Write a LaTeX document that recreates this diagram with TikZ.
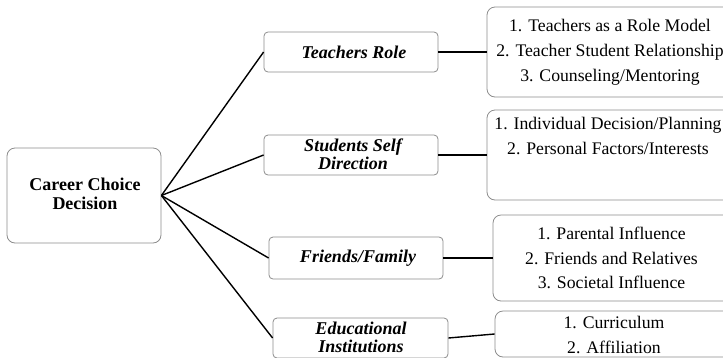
\documentclass[tikz,border=0pt]{standalone}
\usepackage{fontspec}
\setmainfont{Liberation Serif}
\begin{document}
\begin{tikzpicture}[x=1pt,y=-1pt,
  box/.style={draw=black!45, line width=0.8pt, rounded corners=4pt, inner sep=0pt},
  bigbox/.style={box, rounded corners=8pt},
  cattext/.style={font=\fontsize{18}{18.5}\selectfont\bfseries\itshape, align=center, inner sep=0pt},
  itemtext/.style={font=\fontsize{17.7}{24.8}\selectfont, align=center, inner sep=0pt},
  link/.style={draw=black, line width=1.4pt}]
\path[use as bounding box, clip] (0,0) rectangle (723,357);
% central
\node[bigbox, minimum width=154, minimum height=95] (c) at (84,195.5) {};
\node[font=\fontsize{18}{18.5}\selectfont\bfseries, align=center, inner sep=0pt] (ct) at (85,194) {Career Choice\\Decision};
% categories
\node[box, minimum width=174, minimum height=40] (t) at (351,52) {};
\node[cattext] (tt) at (354,52) {Teachers Role};
\node[box, minimum width=174, minimum height=40] (s) at (351,155) {};
\node[cattext] (st) at (353,154) {Students Self\\Direction};
\node[box, minimum width=174, minimum height=42] (f) at (356,258) {};
\node[cattext] (ft) at (358,258) {Friends/Family};
\node[box, minimum width=175, minimum height=40] (e) at (360.5,338) {};
\node[cattext] (et) at (361,337.5) {Educational\\Institutions};
% right boxes
\node[bigbox, minimum width=250, minimum height=90] (r1) at (612,52) {};
\node[itemtext] (r1t) at (610,52) {1. Teachers as a Role Model\\2. Teacher Student Relationship\\3. Counseling/Mentoring};
\node[bigbox, minimum width=250, minimum height=90] (r2) at (612,155) {};
\node[itemtext] (r2t) at (608,136) {1. Individual Decision/Planning\\2. Personal Factors/Interests};
\node[bigbox, minimum width=250, minimum height=86] (r3) at (618,258) {};
\node[itemtext] (r3t) at (611.5,258) {1. Parental Influence\\2. Friends and Relatives\\3. Societal Influence};
\node[bigbox, minimum width=250, minimum height=46] (r4) at (620,334) {};
\node[itemtext] (r4t) at (614,335) {1. Curriculum\\2. Affiliation};
% connectors
\draw[link] (c.east) -- (t.west);
\draw[link] (c.east) -- (s.west);
\draw[link] (c.east) -- (f.west);
\draw[link] (c.east) -- (e.west);
\draw[link] (t.east) -- (r1.west);
\draw[link] (s.east) -- (r2.west);
\draw[link] (f.east) -- (r3.west);
\draw[link] (e.east) -- (r4.west);
\end{tikzpicture}
\end{document}
